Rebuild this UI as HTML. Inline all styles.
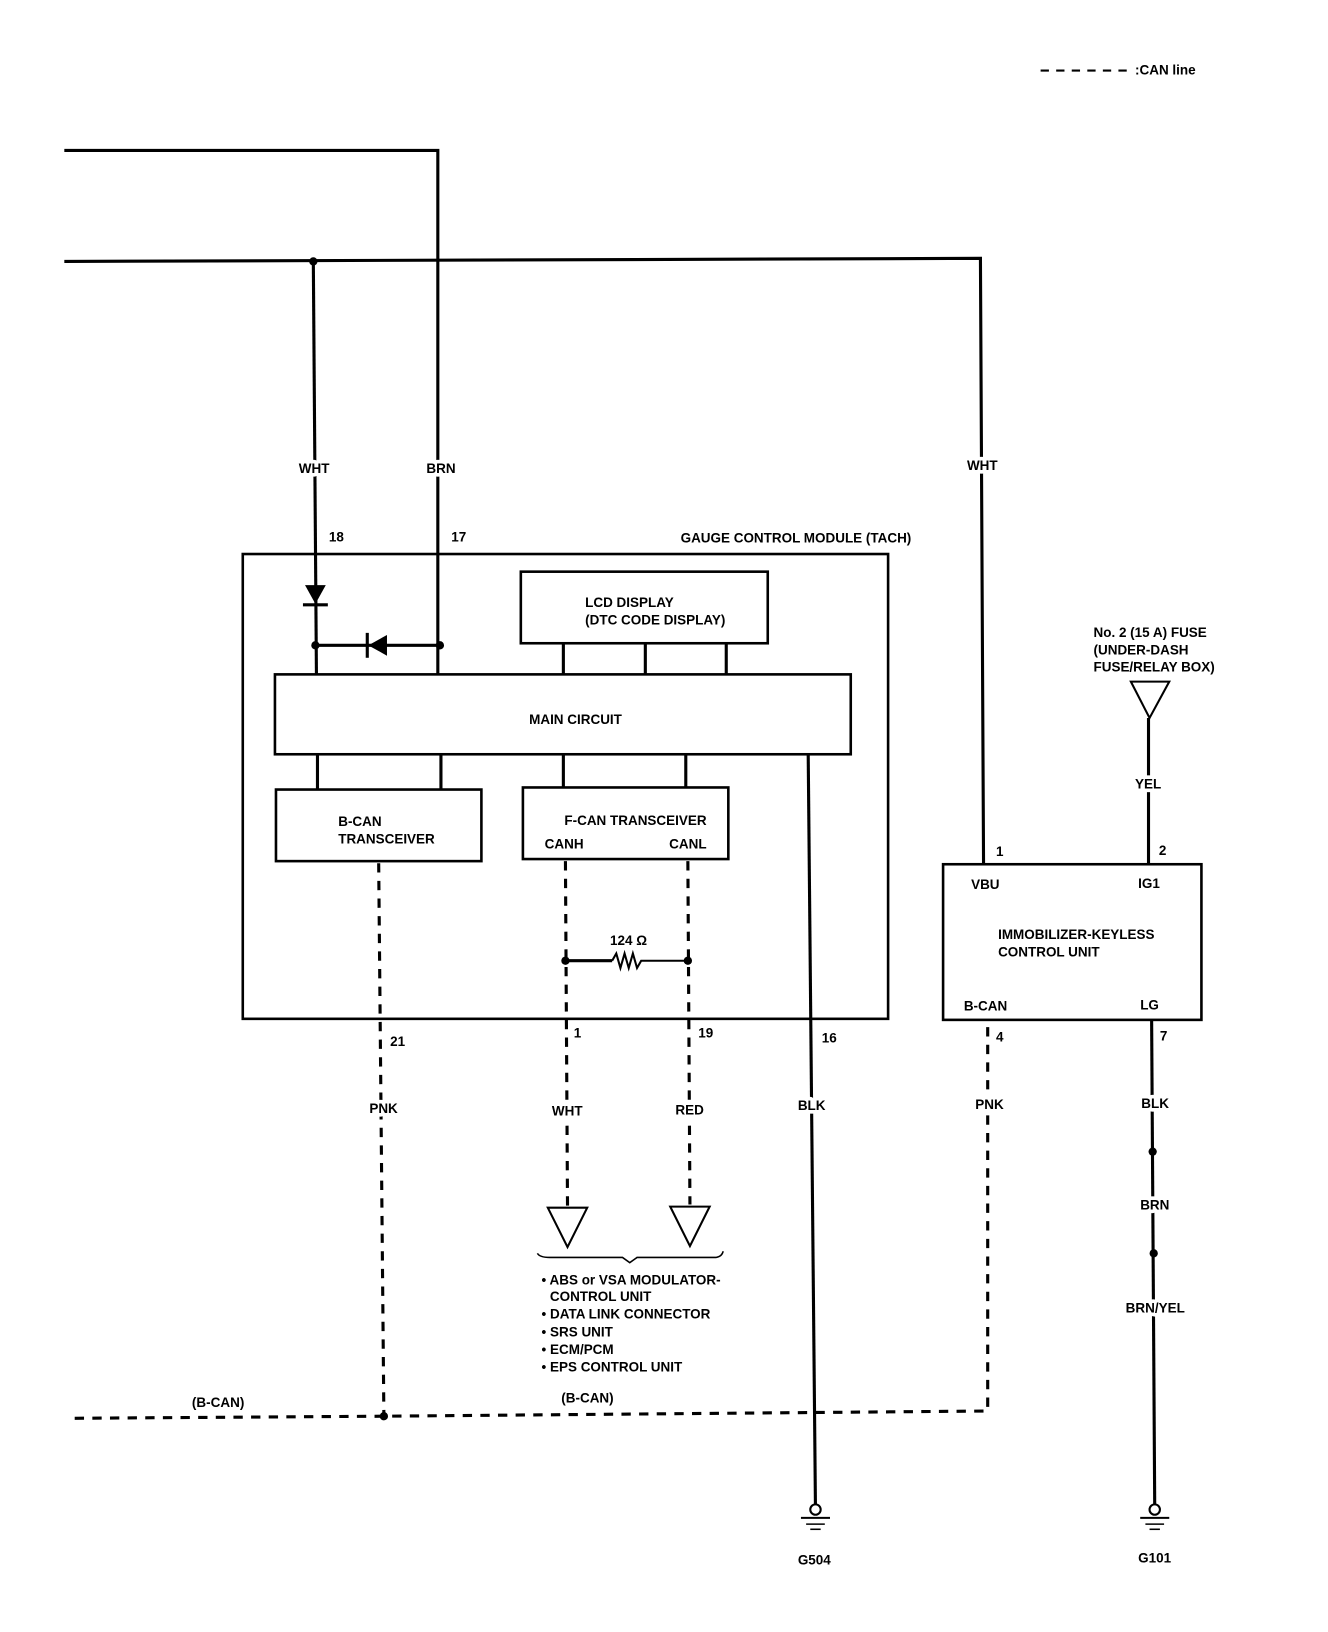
<!DOCTYPE html>
<html><head><style>
html,body{margin:0;padding:0;background:#fff;}
svg{display:block;}
text{font-family:"Liberation Sans",sans-serif;font-weight:bold;font-size:13px;fill:#000;}
text.w{stroke:#fff;stroke-width:7px;paint-order:stroke;stroke-linejoin:round;}
</style></head><body>
<svg width="1328" height="1632" viewBox="0 0 1280 1573" preserveAspectRatio="none" xmlns="http://www.w3.org/2000/svg">
<g stroke="#000" fill="none" stroke-width="3">
<line x1="1003" y1="68" x2="1088" y2="68" stroke-dasharray="8,7" stroke-width="2"/>
<polyline points="62,145 422,145 422,651"/>
<polyline points="62,252 945,249 948,833"/>
<line x1="302" y1="252" x2="305" y2="651"/>
<rect x="234" y="534" width="622" height="448" stroke-width="2.5"/>
<rect x="502" y="551" width="238" height="69" stroke-width="2.5"/>
<line x1="543" y1="620" x2="543" y2="651"/>
<line x1="622" y1="620" x2="622" y2="651"/>
<line x1="700" y1="620" x2="700" y2="651"/>
<rect x="265" y="650" width="555" height="77" stroke-width="2.5"/>
<line x1="304" y1="622" x2="424" y2="622"/>
<line x1="306" y1="728" x2="306" y2="761"/>
<line x1="425" y1="728" x2="425" y2="761"/>
<line x1="543" y1="728" x2="543" y2="759"/>
<line x1="661" y1="728" x2="661" y2="759"/>
<rect x="266" y="761" width="198" height="69" stroke-width="2.5"/>
<rect x="504" y="759" width="198" height="69" stroke-width="2.5"/>
<line x1="779" y1="728" x2="786" y2="1455"/>
<line x1="545" y1="926" x2="590" y2="926"/>
<polyline points="590,926 594,919 598,933 602,919 606,933 610,919 614,933 618,926 663,926" stroke-width="2"/>
<rect x="909" y="833" width="249" height="150" stroke-width="2.5"/>
<line x1="1107" y1="692" x2="1107" y2="833"/>
<polygon points="1090,657 1127,657 1108,692" stroke-width="2"/>
<line x1="1110" y1="983" x2="1113" y2="1455"/>
<polygon points="528,1164 566,1164 547,1202" stroke-width="2"/>
<polygon points="646,1163 684,1163 665,1201" stroke-width="2"/>
<path d="M518,1208 Q520,1212 530,1212 L600,1212 L607,1217 L614,1212 L690,1212 Q696,1211 697,1206" stroke-width="1.5"/>
<line x1="772" y1="1463" x2="800" y2="1463" stroke-width="2"/>
<line x1="777" y1="1469" x2="795" y2="1469" stroke-width="1.5"/>
<line x1="781" y1="1474" x2="791" y2="1474" stroke-width="1.5"/>
<line x1="1099" y1="1463" x2="1127" y2="1463" stroke-width="2"/>
<line x1="1104" y1="1469" x2="1122" y2="1469" stroke-width="1.5"/>
<line x1="1108" y1="1474" x2="1118" y2="1474" stroke-width="1.5"/>
</g>
<g stroke="#000" fill="#fff" stroke-width="2">
<circle cx="786" cy="1455" r="5"/>
<circle cx="1113" cy="1455" r="5"/>
</g>
<g stroke="#000" fill="none" stroke-width="3" stroke-dasharray="9,8">
<line x1="365" y1="832" x2="370" y2="1365"/>
<line x1="545" y1="830" x2="547" y2="1162"/>
<line x1="663" y1="830" x2="665" y2="1161"/>
<polyline points="72,1367 370,1365 952,1360 952,985"/>
</g>
<polygon points="294,564 314,564 304,582" fill="#000"/>
<line x1="292" y1="583" x2="316" y2="583" stroke="#000" stroke-width="3"/>
<polygon points="373,612 373,632 355,622" fill="#000"/>
<line x1="354" y1="610" x2="354" y2="634" stroke="#000" stroke-width="3"/>
<g fill="#000">
<circle cx="302" cy="252" r="4"/>
<circle cx="304" cy="622" r="4"/>
<circle cx="424" cy="622" r="4"/>
<circle cx="545" cy="926" r="4"/>
<circle cx="663" cy="926" r="4"/>
<circle cx="370" cy="1365" r="4"/>
<circle cx="1111" cy="1110" r="4"/>
<circle cx="1112" cy="1208" r="4"/>
</g>
<text x="1094" y="72">:CAN line</text>
<text class="w" x="288" y="456">WHT</text>
<text class="w" x="411" y="456">BRN</text>
<text class="w" x="932" y="453">WHT</text>
<text x="317" y="522">18</text>
<text x="435" y="522">17</text>
<text x="656" y="523">GAUGE CONTROL MODULE (TACH)</text>
<text x="564" y="585">LCD DISPLAY</text>
<text x="564" y="602">(DTC CODE DISPLAY)</text>
<text x="510" y="698">MAIN CIRCUIT</text>
<text x="326" y="796">B-CAN</text>
<text x="326" y="813">TRANSCEIVER</text>
<text x="544" y="795">F-CAN TRANSCEIVER</text>
<text x="525" y="818">CANH</text>
<text x="645" y="818">CANL</text>
<text x="588" y="911">124 Ω</text>
<text x="376" y="1008">21</text>
<text x="553" y="1000">1</text>
<text x="673" y="1000">19</text>
<text x="792" y="1005">16</text>
<text class="w" x="356" y="1073">PNK</text>
<text class="w" x="532" y="1075">WHT</text>
<text class="w" x="651" y="1074">RED</text>
<text class="w" x="769" y="1070">BLK</text>
<text class="w" x="940" y="1069">PNK</text>
<text class="w" x="1100" y="1068">BLK</text>
<text class="w" x="1099" y="1166">BRN</text>
<text class="w" x="1085" y="1265">BRN/YEL</text>
<text x="1054" y="614">No. 2 (15 A) FUSE</text>
<text x="1054" y="631">(UNDER-DASH</text>
<text x="1054" y="647">FUSE/RELAY BOX)</text>
<text class="w" x="1094" y="760">YEL</text>
<text x="960" y="825">1</text>
<text x="1117" y="824">2</text>
<text x="936" y="857">VBU</text>
<text x="1097" y="856">IG1</text>
<text x="962" y="905">IMMOBILIZER-KEYLESS</text>
<text x="962" y="922">CONTROL UNIT</text>
<text x="929" y="974">B-CAN</text>
<text x="1099" y="973">LG</text>
<text x="960" y="1004">4</text>
<text x="1118" y="1003">7</text>
<text x="522" y="1238">• ABS or VSA MODULATOR-</text>
<text x="530" y="1254">CONTROL UNIT</text>
<text x="522" y="1271">• DATA LINK CONNECTOR</text>
<text x="522" y="1288">• SRS UNIT</text>
<text x="522" y="1305">• ECM/PCM</text>
<text x="522" y="1322">• EPS CONTROL UNIT</text>
<text x="185" y="1356">(B-CAN)</text>
<text x="541" y="1352">(B-CAN)</text>
<text x="769" y="1508">G504</text>
<text x="1097" y="1506">G101</text>
</svg>
</body></html>
